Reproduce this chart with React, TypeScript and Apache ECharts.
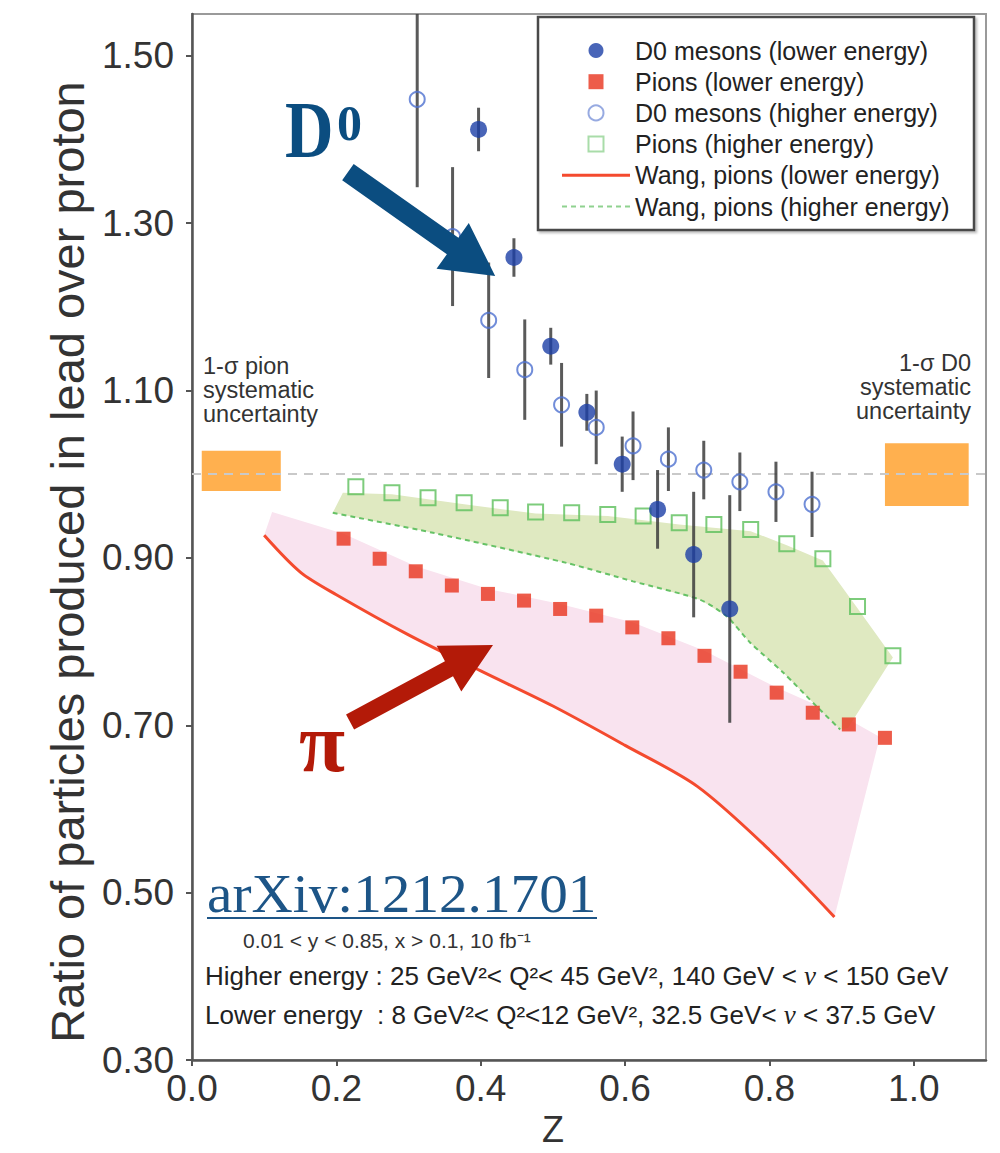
import React, { useEffect, useRef } from "react";
import * as echarts from "echarts";

// ---------- axis ticks ----------
const X_TICKS = [0, 0.2, 0.4, 0.6, 0.8, 1.0];
const Y_TICKS = [0.3, 0.5, 0.7, 0.9, 1.1, 1.3, 1.5];

// ---------- D0 mesons ----------
const D0_LOW_Z = [0.397, 0.446, 0.497, 0.547, 0.596, 0.645, 0.695, 0.745];
const D0_LOW_R = [1.412, 1.259, 1.153, 1.074, 1.012, 0.958, 0.904, 0.839];
const D0_LOW_ERR = [0.026, 0.023, 0.022, 0.022, 0.033, 0.047, 0.075, 0.136];

const D0_HIGH_Z = [0.312, 0.361, 0.411, 0.461, 0.512, 0.56, 0.611, 0.66, 0.709, 0.759, 0.809, 0.859];
const D0_HIGH_R = [1.448, 1.284, 1.184, 1.125, 1.083, 1.056, 1.034, 1.018, 1.005, 0.991, 0.979, 0.964];
const D0_HIGH_ERR = [0.105, 0.083, 0.069, 0.06, 0.05, 0.044, 0.041, 0.038, 0.035, 0.035, 0.036, 0.039];

// ---------- pions ----------
const PI_LOW_Z = [0.21, 0.26, 0.31, 0.36, 0.41, 0.46, 0.51, 0.56, 0.61, 0.66, 0.71, 0.76, 0.81, 0.86, 0.91, 0.96];
const PI_LOW_R = [0.923, 0.899, 0.884, 0.867, 0.857, 0.849, 0.839, 0.831, 0.817, 0.804, 0.783, 0.764, 0.739, 0.715, 0.701, 0.685];

const PI_HIGH_Z = [0.227, 0.277, 0.327, 0.377, 0.427, 0.476, 0.526, 0.576, 0.625, 0.675, 0.723, 0.774, 0.824, 0.874, 0.922, 0.971];
const PI_HIGH_R = [0.985, 0.978, 0.972, 0.966, 0.96, 0.955, 0.954, 0.952, 0.95, 0.942, 0.94, 0.934, 0.917, 0.899, 0.842, 0.783];

// ---------- Wang calculations ----------
const WANG_LOW_Z = [0.1, 0.15, 0.2, 0.3, 0.4, 0.5, 0.6, 0.7, 0.8, 0.89];
const WANG_LOW_R = [0.927, 0.883, 0.856, 0.808, 0.765, 0.723, 0.676, 0.627, 0.551, 0.471];

const WANG_HIGH_Z = [0.195, 0.334, 0.519, 0.611, 0.704, 0.741, 0.773, 0.819, 0.866, 0.898];
const WANG_HIGH_R = [0.954, 0.93, 0.894, 0.872, 0.85, 0.83, 0.799, 0.763, 0.722, 0.695];

// ---------- shaded bands (upper edges; lower edges are the Wang curves) ----------
const PINK_UPPER_Z = [0.111, 0.21, 0.31, 0.41, 0.51, 0.61, 0.71, 0.81, 0.91, 0.953];
const PINK_UPPER_R = [0.955, 0.929, 0.89, 0.863, 0.845, 0.823, 0.789, 0.745, 0.707, 0.686];

const GREEN_UPPER_Z = [0.209, 0.277, 0.377, 0.476, 0.576, 0.675, 0.774, 0.824, 0.874, 0.922, 0.971, 0.909];
const GREEN_UPPER_R = [0.978, 0.976, 0.964, 0.953, 0.95, 0.94, 0.932, 0.915, 0.897, 0.84, 0.781, 0.697];

// ---------- systematic uncertainty boxes ----------
const SYS_Z0 = [0.0135, 0.96];
const SYS_Z1 = [0.123, 1.076];
const SYS_LO = [0.98, 0.962];
const SYS_HI = [1.028, 1.037];

const REF_LEVEL = 1.0;

// ---------- annotation arrows (data coords) ----------
const ARROW_FROM_Z = [0.216, 0.219];
const ARROW_FROM_R = [1.361, 0.704];
const ARROW_TO_Z = [0.42, 0.417];
const ARROW_TO_R = [1.237, 0.796];
const ARROW_STYLE = [
  { fill: "#0b4d80", sw: 20, hl: 52, hw: 56 },
  { fill: "#b31a08", sw: 17, hl: 50, hw: 52 },
];

const NAMES = [
  "D0 mesons (lower energy)",
  "Pions (lower energy)",
  "D0 mesons (higher energy)",
  "Pions (higher energy)",
  "Wang, pions (lower energy)",
  "Wang, pions (higher energy)",
];

const C_BLUE = "#1c3ea6";
const C_BLUE_LIGHT = "#4d70d0";
const C_RED = "#e8331d";
const C_GREEN = "#5dbf5b";
const C_WANG_RED = "#f44a2e";
const C_WANG_GREEN = "#66c266";

const FONT = "Liberation Sans, Arial, sans-serif";
const SERIF = "Liberation Serif, Times New Roman, serif";

const SOLID_ICON = "path://M0,0h68v3h-68z";
const DASH_ICON =
  "path://" +
  [0, 9, 18, 27, 36, 45, 54, 63].map((x) => `M${x},0h5v2h-5z`).join(" ");

function zip(a: number[], b: number[]) {
  return a.map((v, i) => [v, b[i]]);
}

function arrowPoints(s: number[], e: number[], sw: number, hl: number, hw: number) {
  const dx = e[0] - s[0];
  const dy = e[1] - s[1];
  const len = Math.hypot(dx, dy);
  const ux = dx / len;
  const uy = dy / len;
  const nx = -uy;
  const ny = ux;
  const bx = e[0] - ux * hl;
  const by = e[1] - uy * hl;
  return [
    [s[0] + (nx * sw) / 2, s[1] + (ny * sw) / 2],
    [bx + (nx * sw) / 2, by + (ny * sw) / 2],
    [bx + (nx * hw) / 2, by + (ny * hw) / 2],
    [e[0], e[1]],
    [bx - (nx * hw) / 2, by - (ny * hw) / 2],
    [bx - (nx * sw) / 2, by - (ny * sw) / 2],
    [s[0] - (nx * sw) / 2, s[1] - (ny * sw) / 2],
  ];
}

function errorBarSeries(z: number[], r: number[], err: number[]) {
  return {
    type: "custom",
    silent: true,
    z: 5,
    data: z.map((v, i) => [v, r[i] - err[i], r[i] + err[i]]),
    encode: { x: 0, y: [1, 2] },
    renderItem: (_p: any, api: any) => {
      const a = api.coord([api.value(0), api.value(1)]);
      const b = api.coord([api.value(0), api.value(2)]);
      return {
        type: "line",
        shape: { x1: a[0], y1: a[1], x2: b[0], y2: Math.max(b[1], 14) },
        style: { stroke: "#3d3d3d", lineWidth: 3, opacity: 0.85 },
      };
    },
  };
}

export default function App() {
  const ref = useRef<HTMLDivElement>(null);

  useEffect(() => {
    document.body.style.margin = "0";
    const chart = echarts.init(ref.current!, null, { renderer: "svg" });

    const option: any = {
      animation: false,
      backgroundColor: "#ffffff",
      textStyle: { fontFamily: FONT },
      grid: {
        left: 192,
        right: 14,
        top: 14,
        bottom: 93,
        show: true,
        borderColor: "#9a9a9a",
        borderWidth: 2,
      },
      xAxis: {
        type: "value",
        min: 0,
        max: 1.1,
        interval: 0.2,
        name: "Z",
        nameLocation: "middle",
        nameGap: 50,
        nameTextStyle: { fontSize: 36, color: "#333", padding: [0, 72, 0, 0] },
        axisLine: { show: true, onZero: false, lineStyle: { color: "#555", width: 2.5 } },
        axisTick: { show: true, inside: false, length: 6, lineStyle: { color: "#555", width: 2 }, customValues: X_TICKS },
        axisLabel: {
          fontSize: 37,
          color: "#333",
          margin: 10,
          customValues: X_TICKS,
          formatter: (v: number) => v.toFixed(1),
        },
        splitLine: { show: false },
      },
      yAxis: {
        type: "value",
        min: 0.3,
        max: 1.55,
        interval: 0.2,
        name: "Ratio of particles produced in lead over proton",
        nameLocation: "middle",
        nameGap: 100,
        nameTextStyle: { fontSize: 47, color: "#333", padding: [0, 50, 0, 0] },
        axisLine: { show: true, onZero: false, lineStyle: { color: "#555", width: 2.5 } },
        axisTick: { show: true, inside: false, length: 6, lineStyle: { color: "#555", width: 2 }, customValues: Y_TICKS },
        axisLabel: {
          fontSize: 37,
          color: "#333",
          margin: 18,
          customValues: Y_TICKS,
          formatter: (v: number) => v.toFixed(2),
        },
        splitLine: { show: false },
      },
      legend: {
        show: true,
        orient: "vertical",
        left: 562,
        top: 38,
        padding: 0,
        itemWidth: 68,
        itemHeight: 15,
        itemGap: 6.2,
        selectedMode: false,
        textStyle: { fontSize: 25, color: "#222", fontFamily: FONT },
        data: [
          { name: NAMES[0], icon: "circle", itemStyle: { color: C_BLUE } },
          { name: NAMES[1], icon: "path://M0,0h10v10h-10z", itemStyle: { color: C_RED } },
          { name: NAMES[2], icon: "circle", itemStyle: { color: "#ffffff", borderColor: "#7d95d9", borderWidth: 2 } },
          { name: NAMES[3], icon: "path://M0,0h10v10h-10z", itemStyle: { color: "#ffffff", borderColor: "#94d394", borderWidth: 2 } },
          { name: NAMES[4], icon: SOLID_ICON, itemStyle: { color: C_WANG_RED, borderWidth: 0 } },
          { name: NAMES[5], icon: DASH_ICON, itemStyle: { color: "#8fd28f", borderWidth: 0 } },
        ],
      },
      graphic: [
        {
          type: "rect",
          z: 0,
          shape: { x: 538, y: 17, width: 436, height: 213 },
          style: { fill: "#ffffff", stroke: "#4a4a4a", lineWidth: 2.5, shadowColor: "rgba(0,0,0,0.25)", shadowOffsetX: 2, shadowOffsetY: 2, shadowBlur: 2 },
        },
        {
          type: "text",
          x: 203,
          y: 354,
          style: { text: "1-σ pion\nsystematic\nuncertainty", font: `23.5px ${FONT}`, lineHeight: 24, fill: "#333", align: "left", verticalAlign: "top" },
        },
        {
          type: "text",
          x: 971,
          y: 351,
          style: { text: "1-σ D0\nsystematic\nuncertainty", font: `23.5px ${FONT}`, lineHeight: 24, fill: "#333", align: "right", verticalAlign: "top" },
        },
        {
          type: "text",
          x: 285,
          y: 130,
          scaleX: 0.84,
          style: { text: "D", font: `bold 80px ${SERIF}`, fill: "#0b4d80", align: "left", verticalAlign: "middle" },
          z: 10,
        },
        {
          type: "text",
          x: 337,
          y: 123,
          style: { text: "0", font: `bold 50px ${SERIF}`, fill: "#0b4d80", align: "left", verticalAlign: "middle" },
          z: 10,
        },
        {
          type: "text",
          x: 322,
          y: 742,
          style: { text: "π", font: `bold 84px ${SERIF}`, fill: "#b31a08", align: "center", verticalAlign: "middle" },
          z: 10,
        },
        {
          type: "text",
          x: 207,
          y: 894,
          scaleX: 1.06,
          style: { text: "arXiv:1212.1701", font: `54px ${SERIF}`, fill: "#1d5587", align: "left", verticalAlign: "middle" },
          z: 10,
        },
        {
          type: "line",
          shape: { x1: 207, y1: 918, x2: 597, y2: 918 },
          style: { stroke: "#1d5587", lineWidth: 2 },
          z: 10,
        },
        {
          type: "text",
          x: 243,
          y: 940,
          style: { text: "0.01 < y < 0.85, x > 0.1, 10 fb⁻¹", font: `21px ${FONT}`, fill: "#333", align: "left", verticalAlign: "middle" },
          z: 10,
        },
        {
          type: "text",
          x: 205,
          y: 976,
          style: {
            text: "{a|Higher energy : 25 GeV²< Q²< 45 GeV², 140 GeV < }{n|ν}{a| < 150 GeV}",
            rich: {
              a: { font: `26px ${FONT}`, fill: "#222" },
              n: { font: `italic 27px ${SERIF}`, fill: "#222" },
            },
            align: "left",
            verticalAlign: "middle",
          },
          z: 10,
        },
        {
          type: "text",
          x: 205,
          y: 1015,
          style: {
            text: "{a|Lower energy  : 8 GeV²< Q²<12 GeV², 32.5 GeV< }{n|ν}{a| < 37.5 GeV}",
            rich: {
              a: { font: `26px ${FONT}`, fill: "#222" },
              n: { font: `italic 27px ${SERIF}`, fill: "#222" },
            },
            align: "left",
            verticalAlign: "middle",
          },
          z: 10,
        },
      ],
      series: [
        // pink band (pion lower energy theory band)
        {
          type: "custom",
          silent: true,
          z: 1,
          data: [[0.5, 0.8]],
          renderItem: (_p: any, api: any) => {
            const up = PINK_UPPER_Z.map((z, i) => api.coord([z, PINK_UPPER_R[i]]));
            const lo = WANG_LOW_Z.map((z, i) => api.coord([z, WANG_LOW_R[i]])).reverse();
            return { type: "polygon", shape: { points: [...up, ...lo] }, style: { fill: "#f9e3ef" } };
          },
        },
        // green band
        {
          type: "custom",
          silent: true,
          z: 1,
          data: [[0.5, 0.9]],
          renderItem: (_p: any, api: any) => {
            const up = GREEN_UPPER_Z.map((z, i) => api.coord([z, GREEN_UPPER_R[i]]));
            const lo = WANG_HIGH_Z.map((z, i) => api.coord([z, WANG_HIGH_R[i]])).reverse();
            return { type: "polygon", shape: { points: [...up, ...lo] }, style: { fill: "#dfe9c1" } };
          },
        },
        // reference line at 1.0
        {
          type: "line",
          silent: true,
          z: 2,
          data: [],
          markLine: {
            silent: true,
            symbol: ["none", "none"],
            label: { show: false },
            lineStyle: { color: "#c9c9c9", width: 2, type: [9, 7] },
            data: [{ yAxis: REF_LEVEL }],
          },
        },
        // systematic uncertainty boxes
        {
          type: "custom",
          silent: true,
          z: 3,
          data: SYS_Z0.map((z, i) => [z, SYS_LO[i], SYS_Z1[i], SYS_HI[i]]),
          renderItem: (_p: any, api: any) => {
            const a = api.coord([api.value(0), api.value(3)]);
            const b = api.coord([api.value(2), api.value(1)]);
            return {
              type: "rect",
              shape: { x: a[0], y: a[1], width: b[0] - a[0], height: b[1] - a[1] },
              style: { fill: "#ffb04f" },
            };
          },
        },
        // Wang curves
        {
          type: "line",
          name: NAMES[4],
          z: 4,
          data: zip(WANG_LOW_Z, WANG_LOW_R),
          symbol: "none",
          smooth: 0.3,
          lineStyle: { color: C_WANG_RED, width: 3 },
          itemStyle: { color: C_WANG_RED },
        },
        {
          type: "line",
          name: NAMES[5],
          z: 4,
          data: zip(WANG_HIGH_Z, WANG_HIGH_R),
          symbol: "none",
          smooth: 0.25,
          lineStyle: { color: C_WANG_GREEN, width: 2, type: [5, 4] },
          itemStyle: { color: C_WANG_GREEN },
        },
        // error bars
        errorBarSeries(D0_HIGH_Z, D0_HIGH_R, D0_HIGH_ERR),
        errorBarSeries(D0_LOW_Z, D0_LOW_R, D0_LOW_ERR),
        // markers
        {
          type: "scatter",
          name: NAMES[3],
          z: 6,
          data: zip(PI_HIGH_Z, PI_HIGH_R),
          symbol: "rect",
          symbolSize: 15,
          itemStyle: { color: "rgba(0,0,0,0)", borderColor: C_GREEN, borderWidth: 2 },
        },
        {
          type: "scatter",
          name: NAMES[1],
          z: 6,
          data: zip(PI_LOW_Z, PI_LOW_R),
          symbol: "rect",
          symbolSize: 14,
          itemStyle: { color: C_RED },
        },
        {
          type: "scatter",
          name: NAMES[2],
          z: 6,
          data: zip(D0_HIGH_Z, D0_HIGH_R),
          symbol: "circle",
          symbolSize: 15,
          itemStyle: { color: "rgba(0,0,0,0)", borderColor: C_BLUE_LIGHT, borderWidth: 2 },
        },
        {
          type: "scatter",
          name: NAMES[0],
          z: 6,
          data: zip(D0_LOW_Z, D0_LOW_R),
          symbol: "circle",
          symbolSize: 17,
          itemStyle: { color: C_BLUE },
        },
        // annotation arrows
        {
          type: "custom",
          silent: true,
          z: 7,
          data: ARROW_FROM_Z.map((z, i) => [z, ARROW_FROM_R[i], ARROW_TO_Z[i], ARROW_TO_R[i]]),
          renderItem: (p: any, api: any) => {
            const s = api.coord([api.value(0), api.value(1)]);
            const e = api.coord([api.value(2), api.value(3)]);
            const st = ARROW_STYLE[p.dataIndex];
            return {
              type: "polygon",
              shape: { points: arrowPoints(s, e, st.sw, st.hl, st.hw) },
              style: { fill: st.fill },
            };
          },
        },
      ],
    };

    chart.setOption(option);
    return () => chart.dispose();
  }, []);

  return <div ref={ref} style={{ width: 1000, height: 1153 }} />;
}
